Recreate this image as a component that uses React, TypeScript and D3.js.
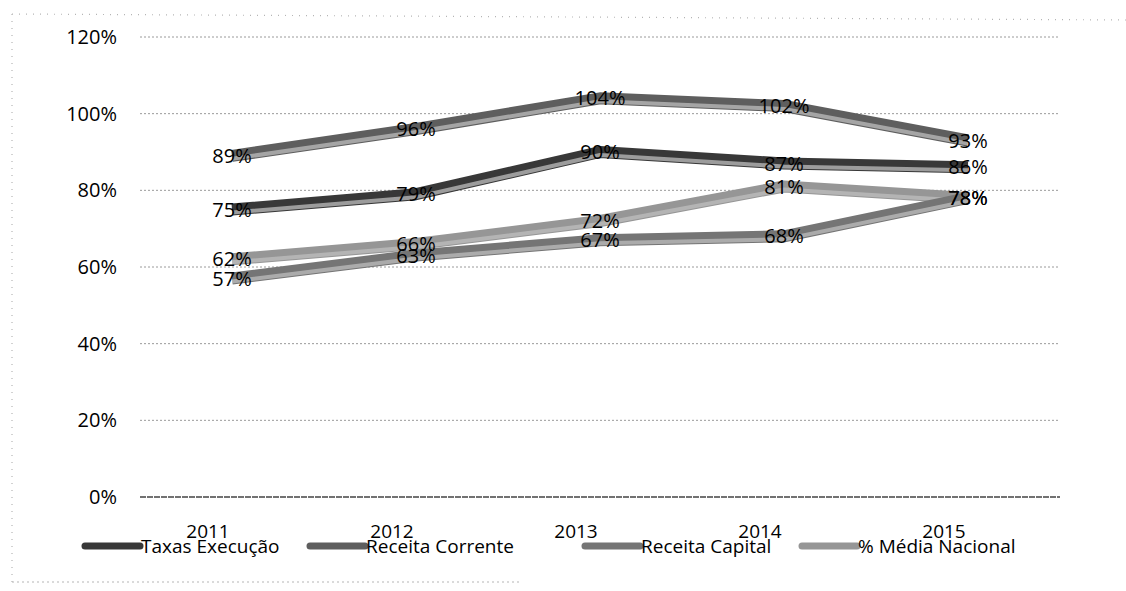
import * as d3 from 'd3';
import {useEffect, useRef} from "react";

const years = ["2011", "2012", "2013", "2014", "2015"];
const seriesNames = ["Taxas Execução", "Receita Corrente", "Receita Capital", "% Média Nacional"];
const taxasExecucao = [75, 79, 90, 87, 86];
const receitaCorrente = [89, 96, 104, 102, 93];
const receitaCapital = [57, 63, 67, 68, 78];
const mediaNacional = [62, 66, 72, 81, 78];
const yTicks = [0, 20, 40, 60, 80, 100, 120];
const seriesColors = ["#383838", "#5e5e5e", "#757575", "#969696"];

export default function App() {
    const chartRef = useRef<SVGSVGElement | null>(null);

    useEffect(() => {
        const width = 1126;
        const marginLeft = 140;
        const marginRight = 66;
        const marginTop = 37;
        const yBottom = 497;
        const font = "'Open Sans', 'Noto Sans', sans-serif";

        const svg = d3.select(chartRef.current);
        svg.selectAll("*").remove();

        const x = d3.scaleBand()
            .domain(years)
            .range([marginLeft, width - marginRight]);

        const y = d3.scaleLinear()
            .domain([0, 120])
            .range([yBottom, marginTop]);

        // frame of the scanned chart area (partly visible)
        const frame = svg.append("g")
            .attr("stroke", "#b5b5b5")
            .attr("stroke-dasharray", "1,6")
            .attr("stroke-width", 1.2);
        frame.append("line").attr("x1", 12).attr("x2", 1126).attr("y1", 14).attr("y2", 20);
        frame.append("line").attr("x1", 12).attr("x2", 12).attr("y1", 14).attr("y2", 582);
        frame.append("line").attr("x1", 12).attr("x2", 520).attr("y1", 582).attr("y2", 582)
            .attr("stroke-dasharray", "2,3");

        // gridlines + y labels
        const grid = svg.append("g");
        grid.selectAll("line")
            .data(yTicks)
            .join("line")
            .attr("x1", marginLeft)
            .attr("x2", width - marginRight)
            .attr("y1", d => y(d))
            .attr("y2", d => y(d))
            .attr("stroke", d => d === 0 ? "#444" : "#9a9a9a")
            .attr("stroke-width", d => d === 0 ? 1.3 : 1)
            .attr("stroke-dasharray", d => d === 0 ? "6,1" : "2,2");

        grid.selectAll("text")
            .data(yTicks)
            .join("text")
            .attr("x", 117)
            .attr("y", d => y(d))
            .attr("dy", "0.35em")
            .attr("text-anchor", "end")
            .attr("font-family", font)
            .attr("font-size", 20)
            .attr("fill", "#000")
            .text(d => d + "%");

        // year labels (sit a bit left of the points in the scan)
        svg.append("g").selectAll("text")
            .data(years)
            .join("text")
            .attr("x", d => x(d)! + x.bandwidth() / 2 - 24)
            .attr("y", 531)
            .attr("dy", "0.35em")
            .attr("text-anchor", "middle")
            .attr("font-family", font)
            .attr("font-size", 19)
            .attr("fill", "#000")
            .text(d => d);

        const allSeries = [taxasExecucao, receitaCorrente, receitaCapital, mediaNacional];
        const line = d3.line<number>()
            .x((_, i) => x(years[i])! + x.bandwidth() / 2)
            .y(d => y(d));

        // draw lighter series first
        const order = [3, 2, 1, 0];
        const lines = svg.append("g").attr("fill", "none").attr("stroke-linejoin", "round");
        order.forEach(i => {
            lines.append("path")
                .attr("d", line(allSeries[i]))
                .attr("stroke", seriesColors[i])
                .attr("stroke-width", 12);
            lines.append("path")
                .attr("d", line(allSeries[i]))
                .attr("transform", "translate(0,3)")
                .attr("stroke", "#bdbdbd")
                .attr("stroke-width", 4)
                .attr("opacity", 0.75);
        });

        // data labels
        const labels = svg.append("g");
        allSeries.forEach(vals => {
            labels.selectAll(null)
                .data(vals)
                .join("text")
                .attr("x", (_, i) => x(years[i])! + x.bandwidth() / 2)
                .attr("y", d => y(d))
                .attr("dy", "0.35em")
                .attr("text-anchor", "middle")
                .attr("font-family", font)
                .attr("font-size", 20)
                .attr("fill", "#000")
                .text(d => d + "%");
        });

        // legend
        const legendX = [85, 310, 585, 802];
        const legend = svg.append("g");
        seriesNames.forEach((name, i) => {
            legend.append("line")
                .attr("x1", legendX[i])
                .attr("x2", legendX[i] + 55)
                .attr("y1", 546)
                .attr("y2", 546)
                .attr("stroke", seriesColors[i])
                .attr("stroke-width", 7)
                .attr("stroke-linecap", "round");
            legend.append("text")
                .attr("x", legendX[i] + 56)
                .attr("y", 546)
                .attr("dy", "0.35em")
                .attr("font-family", font)
                .attr("font-size", 19)
                .attr("fill", "#000")
                .text(name);
        });
    }, []);

    return (
        <svg ref={chartRef} width={1126} height={591}
             style={{position: "absolute", left: 0, top: 0, background: "#fff"}}/>
    );
}
